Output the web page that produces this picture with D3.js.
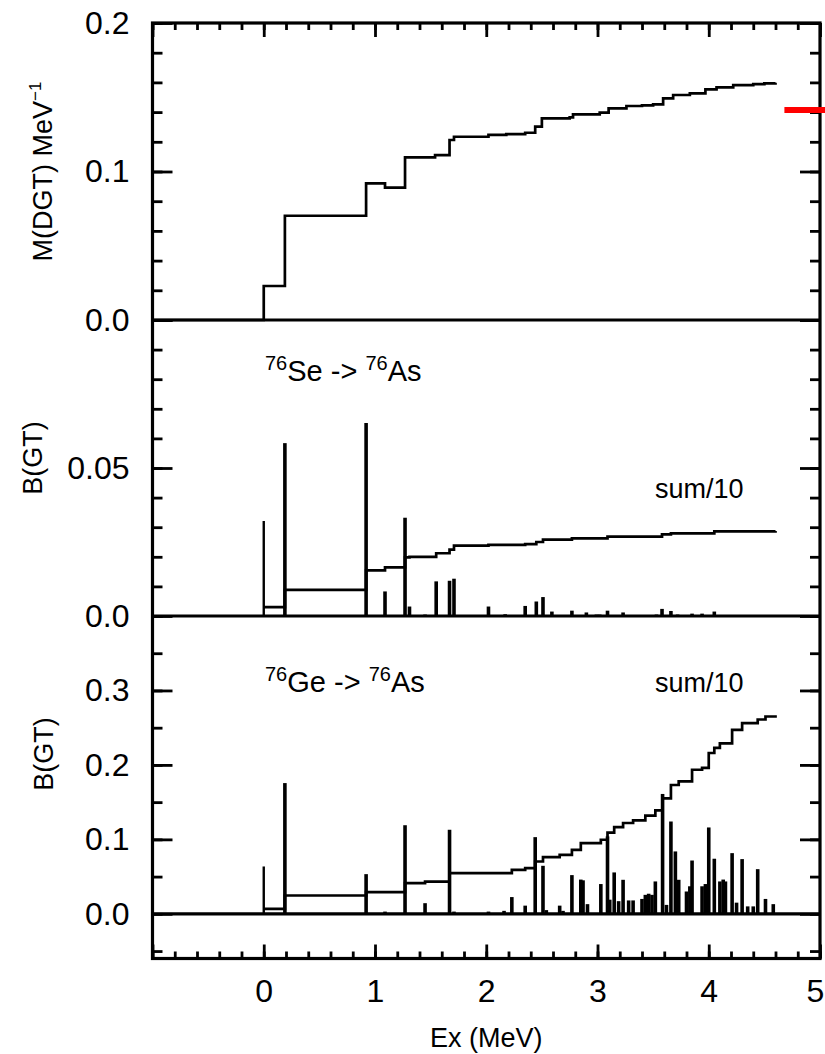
<!DOCTYPE html>
<html>
<head>
<meta charset="utf-8">
<script src="https://cdn.jsdelivr.net/npm/d3@7"></script>
<style>
  body { margin: 0; background: #fff; }
  text { font-family: "Liberation Sans", Arial, Helvetica, sans-serif; fill: #000; }
</style>
</head>
<body>
<script>
// ---------------Data---------------

// top panel: running M(DGT) (step values)
const mdgtE = [-1, 0, 0.19, 0.92, 1.09, 1.27, 1.54, 1.67, 1.71, 2.02, 2.18, 2.35, 2.44, 2.50, 2.75, 2.78, 3.02, 3.10, 3.26, 3.40, 3.50, 3.59, 3.68, 3.83, 3.97, 4.07, 4.22, 4.40, 4.50, 4.60]
const mdgtV = [0, 0.0229, 0.0702, 0.0920, 0.0891, 0.1095, 0.1110, 0.1212, 0.1234, 0.1246, 0.1252, 0.1261, 0.1302, 0.1358, 0.1365, 0.1385, 0.1396, 0.1425, 0.1441, 0.1445, 0.1452, 0.1493, 0.1515, 0.1526, 0.1553, 0.1567, 0.1582, 0.1589, 0.1594, 0.1598]
const markerE = [4.68, 5.06]
const markerV = 0.1414

// 76Se -> 76As strengths
const seE = [0.00, 0.19, 0.92, 1.09, 1.27, 1.31, 1.45, 1.55, 1.67, 1.71, 2.02, 2.17, 2.35, 2.45, 2.51, 2.59, 2.77, 2.90, 2.99, 3.02, 3.09, 3.23, 3.53, 3.58, 3.66, 3.72, 3.85, 3.94, 4.05, 4.52]
const seB = [0.0321, 0.0584, 0.0652, 0.0083, 0.0332, 0.0032, 0.0005, 0.0117, 0.0119, 0.0126, 0.0032, 0.0006, 0.0034, 0.0049, 0.0064, 0.0015, 0.0018, 0.0012, 0.0005, 0.0005, 0.0018, 0.0012, 0.0005, 0.0024, 0.0017, 0.0005, 0.0008, 0.0008, 0.0015, 0.0003]
// running sum / 10
const seSumE = [0.00, 0.19, 0.92, 1.09, 1.27, 1.31, 1.55, 1.67, 1.71, 2.02, 2.35, 2.45, 2.51, 2.77, 3.09, 3.58, 3.66, 4.05, 4.60]
const seSumV = [0.0030, 0.0088, 0.0154, 0.0164, 0.0198, 0.0200, 0.0212, 0.0224, 0.0238, 0.0240, 0.0243, 0.0250, 0.0258, 0.0262, 0.0268, 0.0276, 0.0279, 0.0286, 0.0287]

// 76Ge -> 76As strengths
const geE = [0.00, 0.19, 0.92, 1.09, 1.27, 1.45, 1.67, 1.71, 2.02, 2.16, 2.23, 2.35, 2.44, 2.51, 2.54, 2.66, 2.69, 2.77, 2.85, 2.87, 2.91, 3.03, 3.09, 3.11, 3.15, 3.19, 3.23, 3.28, 3.32, 3.40, 3.43, 3.46, 3.49, 3.52, 3.585, 3.62, 3.66, 3.70, 3.73, 3.80, 3.83, 3.85, 3.94, 3.97, 4.00, 4.05, 4.10, 4.13, 4.15, 4.21, 4.25, 4.30, 4.35, 4.40, 4.44, 4.51, 4.58]
const geB = [0.0636, 0.1756, 0.0533, 0.0030, 0.1190, 0.0143, 0.1129, 0.0030, 0.0030, 0.0040, 0.0225, 0.0110, 0.1030, 0.0645, 0.0050, 0.0110, 0.0040, 0.0520, 0.0460, 0.0450, 0.0130, 0.0400, 0.1040, 0.0190, 0.0556, 0.0170, 0.0457, 0.0180, 0.0180, 0.0200, 0.0255, 0.0270, 0.0255, 0.0435, 0.1610, 0.0120, 0.1240, 0.0838, 0.0457, 0.0300, 0.0370, 0.0716, 0.0370, 0.0400, 0.1160, 0.0740, 0.0435, 0.0460, 0.0435, 0.0815, 0.0150, 0.0735, 0.0100, 0.0100, 0.0600, 0.0200, 0.0130]
// running sum / 10
const geSumE = [0.00, 0.19, 0.92, 1.27, 1.45, 1.67, 2.23, 2.35, 2.44, 2.51, 2.66, 2.77, 2.85, 3.03, 3.09, 3.15, 3.23, 3.32, 3.43, 3.52, 3.585, 3.66, 3.73, 3.85, 3.94, 4.00, 4.05, 4.10, 4.21, 4.30, 4.44, 4.51, 4.60]
const geSumV = [0.0067, 0.0246, 0.0291, 0.0412, 0.0432, 0.0547, 0.0590, 0.0614, 0.0703, 0.0762, 0.0793, 0.0860, 0.0950, 0.0995, 0.1090, 0.1165, 0.1220, 0.1255, 0.1320, 0.1390, 0.1550, 0.1730, 0.1780, 0.1935, 0.1960, 0.2160, 0.2230, 0.2290, 0.2470, 0.2560, 0.2610, 0.2650, 0.2666]

// ticks
const xMajor = [-1, 0, 1, 2, 3, 4, 5]
const xLabels = ['', '0', '1', '2', '3', '4', '5']
const p1Major = [0, 0.1, 0.2]
const p1Labels = ['0.0', '0.1', '0.2']
const p2Major = [0, 0.05, 0.1]
const p2Labels = ['0.0', '0.05', '']
const p3Major = [0, 0.1, 0.2, 0.3]
const p3Labels = ['0.0', '0.1', '0.2', '0.3']

// ---------------Layout---------------

const fullWidth = 825
const fullHeight = 1054
const left = 152.5
const right = 820
const top1 = 23, bot1 = 320
const top2 = 320, bot2 = 616
const top3 = 616, bot3 = 958.5

const svg = d3.select('body').append('svg')
  .attr('width', fullWidth)
  .attr('height', fullHeight)

const x = d3.scaleLinear().domain([-1, 5]).range([left, right])
const y1 = d3.scaleLinear().domain([0, 0.2]).range([bot1, top1])
const y2 = d3.scaleLinear().domain([0, 0.1]).range([bot2, top2])
const y3 = d3.scaleLinear().domain([-0.06, 0.4]).range([bot3, top3])

const range = (a, b, s) => d3.range(Math.round(a / s), Math.round(b / s) + 1).map(i => +(i * s).toFixed(4))

// ---------------Axes---------------

function yAxes(scale, major, labels, minorStep) {
  const [lo, hi] = scale.domain()
  const minor = range(Math.ceil(lo / minorStep) * minorStep, hi, minorStep)
  const g = svg.append('g')

  g.append('g').attr('transform', `translate(${left},0)`)
    .call(d3.axisLeft(scale).tickValues(minor).tickSize(-10).tickFormat(''))
  g.append('g').attr('transform', `translate(${left},0)`)
    .call(d3.axisLeft(scale).tickValues(major).tickSize(-20).tickPadding(23)
      .tickFormat((d, i) => labels[i]))
  g.append('g').attr('transform', `translate(${right},0)`)
    .call(d3.axisRight(scale).tickValues(minor).tickSize(-10).tickFormat(''))
  g.append('g').attr('transform', `translate(${right},0)`)
    .call(d3.axisRight(scale).tickValues(major).tickSize(-20).tickFormat(''))

  g.selectAll('.domain').remove()
  g.selectAll('.tick line').attr('stroke', '#000').attr('stroke-width', 2.8)
  g.selectAll('.tick text').attr('font-size', 32).attr('font-family', '"Liberation Sans", Arial, sans-serif')
}

yAxes(y1, p1Major, p1Labels, 0.02)
yAxes(y2, p2Major, p2Labels, 0.01)
yAxes(y3, p3Major, p3Labels, 0.05)

const xMinor = range(-1, 5, 0.2)
const xg = svg.append('g')
xg.append('g').attr('transform', `translate(0,${top1})`)
  .call(d3.axisTop(x).tickValues(xMinor).tickSize(-7).tickFormat(''))
xg.append('g').attr('transform', `translate(0,${top1})`)
  .call(d3.axisTop(x).tickValues(xMajor).tickSize(-14).tickFormat(''))
xg.append('g').attr('transform', `translate(0,${bot3})`)
  .call(d3.axisBottom(x).tickValues(xMinor).tickSize(-7).tickFormat(''))
xg.append('g').attr('transform', `translate(0,${bot3})`)
  .call(d3.axisBottom(x).tickValues(xMajor).tickSize(-14).tickPadding(21)
    .tickFormat((d, i) => xLabels[i]))
xg.selectAll('.domain').remove()
xg.selectAll('.tick line').attr('stroke', '#000').attr('stroke-width', 2.8)
xg.selectAll('.tick text').attr('font-size', 32).attr('font-family', '"Liberation Sans", Arial, sans-serif')
// last label sits against the right edge of the page
xg.selectAll('.tick text').filter(d => d === 5).attr('dx', -5)

// ---------------Frame---------------

svg.append('rect')
  .attr('x', left).attr('y', top1)
  .attr('width', right - left).attr('height', bot3 - top1)
  .attr('fill', 'none').attr('stroke', '#000').attr('stroke-width', 3.2)

;[bot1, bot2, y3(0)].forEach(yy => {
  svg.append('line')
    .attr('x1', left).attr('x2', right)
    .attr('y1', yy).attr('y2', yy)
    .attr('stroke', '#000').attr('stroke-width', 3.2)
})

// ---------------Data marks---------------

const step = (scale) => d3.line()
  .x(d => x(d[0]))
  .y(d => scale(d[1]))
  .curve(d3.curveStepAfter)

function spikes(scale, es, bs) {
  svg.append('g').selectAll('line')
    .data(es.map((e, i) => [e, bs[i]]))
    .enter().append('line')
    .attr('x1', d => x(d[0])).attr('x2', d => x(d[0]))
    .attr('y1', scale(0)).attr('y2', d => scale(d[1]))
    .attr('stroke', '#000')
    .attr('stroke-width', (d, i) => i === 0 ? 2.4 : 3.6)
}

function curve(scale, es, vs) {
  svg.append('path')
    .datum(es.map((e, i) => [e, vs[i]]))
    .attr('d', step(scale))
    .attr('fill', 'none')
    .attr('stroke', '#000')
    .attr('stroke-width', 2.7)
}

curve(y1, mdgtE, mdgtV)

svg.append('line')
  .attr('x1', x(markerE[0])).attr('x2', x(markerE[1]))
  .attr('y1', y1(markerV)).attr('y2', y1(markerV))
  .attr('stroke', '#ff0000').attr('stroke-width', 6)

spikes(y2, seE, seB)
curve(y2, seSumE, seSumV)

spikes(y3, geE, geB)
curve(y3, geSumE, geSumV)

// ---------------Labels---------------

function reaction(yy, from) {
  const t = svg.append('text').attr('x', 265).attr('y', yy).attr('font-size', 29)
  t.append('tspan').attr('font-size', 20).attr('dy', -11).text('76')
  t.append('tspan').attr('dy', 11).text(from + ' -> ')
  t.append('tspan').attr('font-size', 20).attr('dy', -11).text('76')
  t.append('tspan').attr('dy', 11).text('As')
}
reaction(381, 'Se')
reaction(692, 'Ge')

svg.append('text').attr('x', 655).attr('y', 498).attr('font-size', 27).text('sum/10')
svg.append('text').attr('x', 655).attr('y', 692).attr('font-size', 27).text('sum/10')

const yt = svg.append('text')
  .attr('transform', `translate(52,${(top1 + bot1) / 2}) rotate(-90)`)
  .attr('text-anchor', 'middle').attr('font-size', 27)
yt.append('tspan').text('M(DGT) MeV')
yt.append('tspan').attr('font-size', 17).attr('dy', -11).text('\u22121')

svg.append('text')
  .attr('transform', `translate(42,458) rotate(-90)`)
  .attr('text-anchor', 'middle').attr('font-size', 27).text('B(GT)')
svg.append('text')
  .attr('transform', `translate(53,754) rotate(-90)`)
  .attr('text-anchor', 'middle').attr('font-size', 27).text('B(GT)')

svg.append('text')
  .attr('x', (left + right) / 2).attr('y', 1047)
  .attr('text-anchor', 'middle').attr('font-size', 27).text('Ex (MeV)')
</script>
</body>
</html>
